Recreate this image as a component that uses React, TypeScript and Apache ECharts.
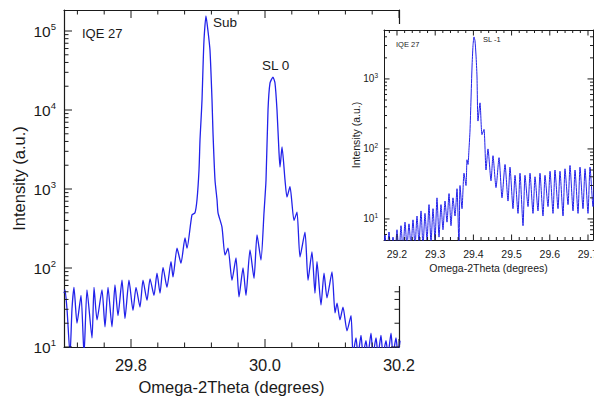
import React, { useEffect, useRef } from 'react';
import * as echarts from 'echarts';

// ---------- Main scan (Omega-2Theta, degrees / intensity, a.u.) ----------
const mainX = [
  29.7000, 29.7015, 29.7045, 29.7090, 29.7119, 29.7149, 29.7194, 29.7254, 29.7299, 29.7343,
  29.7418, 29.7448, 29.7493, 29.7567, 29.7612, 29.7657, 29.7716, 29.7761, 29.7806, 29.7866,
  29.7910, 29.7970, 29.8030, 29.8075, 29.8134, 29.8179, 29.8239, 29.8284, 29.8343, 29.8388,
  29.8433, 29.8478, 29.8537, 29.8597, 29.8627, 29.8687, 29.8746, 29.8806, 29.8836, 29.8910,
  29.8955, 29.8985, 29.9015, 29.9030, 29.9045, 29.9060, 29.9075, 29.9090, 29.9119, 29.9149,
  29.9179, 29.9209, 29.9224, 29.9254, 29.9284, 29.9299, 29.9358, 29.9403, 29.9448, 29.9507,
  29.9567, 29.9612, 29.9672, 29.9716, 29.9776, 29.9836, 29.9881, 29.9940, 29.9985, 30.0015,
  30.0045, 30.0075, 30.0119, 30.0149, 30.0179, 30.0209, 30.0224, 30.0254, 30.0299, 30.0328,
  30.0373, 30.0433, 30.0478, 30.0522, 30.0597, 30.0642, 30.0701, 30.0746, 30.0776, 30.0836,
  30.0881, 30.0925, 30.1000, 30.1045, 30.1075, 30.1119, 30.1164, 30.1224, 30.1284, 30.1313,
  30.1358, 30.1388, 30.1433, 30.1463, 30.1507, 30.1537, 30.1582, 30.1612, 30.1657, 30.1687,
  30.1731, 30.1761, 30.1806, 30.1836, 30.1881, 30.1910, 30.1955, 30.1985, 30.2015,
];
const mainY = [
  48, 53, 30, 8, 30, 57, 20, 45, 8, 53,
  13, 57, 22, 53, 18, 57, 18, 61, 25, 70,
  23, 70, 29, 57, 32, 70, 39, 73, 45, 86,
  48, 102, 57, 120, 77, 178, 115, 240, 178, 470,
  500, 730, 1740, 4200, 7400, 13500, 35000, 78000, 155000, 100000,
  57000, 13500, 5100, 1290, 730, 500, 330, 146, 178, 70,
  134, 43, 100, 45, 170, 74, 263, 126, 500, 1290,
  10000, 22000, 26000, 22000, 10000, 2900, 1900, 3400, 1290, 790,
  1070, 400, 510, 138, 285, 70, 160, 48, 120, 34,
  86, 42, 89, 27, 36, 22, 32, 16, 25, 8,
  13, 8, 14, 8, 12, 8, 15, 8, 13, 8,
  14, 8, 12, 8, 15, 8, 13, 8, 12,
];

// ---------- Inset scan ----------
const insetX = [
  29.1660, 29.1686, 29.1739, 29.1791, 29.1843, 29.1896, 29.1948, 29.2000, 29.2053, 29.2105,
  29.2157, 29.2210, 29.2262, 29.2314, 29.2367, 29.2419, 29.2472, 29.2524, 29.2576, 29.2629,
  29.2681, 29.2733, 29.2786, 29.2838, 29.2890, 29.2943, 29.2995, 29.3047, 29.3100, 29.3152,
  29.3204, 29.3257, 29.3309, 29.3362, 29.3414, 29.3466, 29.3519, 29.3571, 29.3623, 29.3650,
  29.3702, 29.3754, 29.3807, 29.3833, 29.3859, 29.3885, 29.3911, 29.3937, 29.3964, 29.3990,
  29.4016, 29.4042, 29.4068, 29.4094, 29.4120, 29.4173, 29.4225, 29.4278, 29.4330, 29.4382,
  29.4461, 29.4513, 29.4592, 29.4671, 29.4749, 29.4828, 29.4906, 29.4958, 29.5037, 29.5089,
  29.5168, 29.5220, 29.5299, 29.5351, 29.5430, 29.5482, 29.5560, 29.5613, 29.5691, 29.5743,
  29.5822, 29.5875, 29.5953, 29.6006, 29.6084, 29.6136, 29.6215, 29.6267, 29.6346, 29.6398,
  29.6477, 29.6529, 29.6608, 29.6660, 29.6739, 29.6791, 29.6869, 29.6922, 29.7000, 29.7053,
  29.7131, 29.7184,
];
const insetY = [
  3, 6, 3, 6.5, 3, 5.5, 3, 7, 3, 8,
  3.5, 9, 4, 8.5, 4, 9.7, 4, 11, 4.5, 13,
  4, 12, 5, 16, 4.5, 14, 5, 20, 5.5, 16,
  7, 18, 9, 23, 8, 20, 11, 27, 4, 30,
  14, 45, 30, 70, 60, 100, 180, 500, 1480, 3000,
  3980, 3500, 2200, 1100, 250, 455, 160, 190, 50, 100,
  35, 80, 28, 75, 20, 60, 18, 55, 14, 42,
  12, 45, 8, 42, 15, 45, 12, 40, 13, 45,
  11, 42, 15, 48, 12, 50, 14, 48, 11, 52,
  16, 58, 13, 50, 12, 55, 14, 52, 12, 55,
  15, 50,
];

// ---------- Tick marks and labels ----------
const mainXLabels = [29.8, 30.0, 30.2];
const mainXMinorTicks = [29.72, 29.76, 29.84, 29.88, 29.92, 29.96, 30.04, 30.08, 30.12, 30.16];
const mainYDecades = [10, 100, 1000, 10000, 100000];
const mainYMinorTicks = [
  20, 30, 40, 50, 60, 70, 80, 90,
  200, 300, 400, 500, 600, 700, 800, 900,
  2000, 3000, 4000, 5000, 6000, 7000, 8000, 9000,
  20000, 30000, 40000, 50000, 60000, 70000, 80000, 90000,
];
const insetXLabels = [29.2, 29.3, 29.4, 29.5, 29.6, 29.7];
const insetXMinorTicks = [
  29.18, 29.22, 29.24, 29.26, 29.28, 29.32, 29.34, 29.36, 29.38, 29.42, 29.44,
  29.46, 29.48, 29.52, 29.54, 29.56, 29.58, 29.62, 29.64, 29.66, 29.68,
];
const insetYDecades = [10, 100, 1000];
const insetYMinorTicks = [
  6, 7, 8, 9,
  20, 30, 40, 50, 60, 70, 80, 90,
  200, 300, 400, 500, 600, 700, 800, 900,
  2000, 3000, 4000,
];

const FONT = '"Liberation Sans", Arial, Helvetica, sans-serif';
const INK = '#1a1a1a';
const BLUE = '#2222ea';

type PlotCfg = {
  grid: { left: number; top: number; width: number; height: number };
  xMin: number; xMax: number; yMin: number; yMax: number;
  xLabels: number[]; xMinor: number[];
  yDecades: number[]; yMinor: number[];
  minorLen: number; majorLen: number;
  xFont: number; xMargin: number; yFont: number; supSize: number; yMargin: number;
  xName: string; xNameGap: number; yName: string; yNameGap: number; nameSize: number;
  lineWidth: number;
  curveX: number[]; curveY: number[]; curveWidth: number;
  notes: { text: string; x: number; y: number; size: number }[];
};

function buildOption(c: PlotCfg) {
  const axisLine = { show: true, onZero: false, lineStyle: { color: INK, width: c.lineWidth } };
  const lmin = Math.log10(c.yMin);
  const lmax = Math.log10(c.yMax);
  const lh = Math.round(c.yFont * 1.25);
  return {
    animation: false,
    backgroundColor: '#ffffff',
    grid: { ...c.grid, containLabel: false, outerBoundsMode: 'none' },
    xAxis: [
      {
        type: 'value', min: c.xMin, max: c.xMax, position: 'bottom',
        axisLine, axisTick: { show: false }, splitLine: { show: false },
        axisLabel: {
          show: true, customValues: c.xLabels, formatter: (v: number) => v.toFixed(1),
          color: INK, fontFamily: FONT, fontSize: c.xFont, margin: c.xMargin,
        },
        name: c.xName, nameLocation: 'middle', nameGap: c.xNameGap, nameMoveOverlap: false,
        nameTextStyle: { color: INK, fontFamily: FONT, fontSize: c.nameSize },
      },
      {
        type: 'value', min: c.xMin, max: c.xMax, position: 'top',
        axisLine, axisTick: { show: false }, axisLabel: { show: false }, splitLine: { show: false },
      },
    ],
    yAxis: [
      {
        type: 'log', logBase: 10, min: c.yMin, max: c.yMax, position: 'left',
        axisLine, axisTick: { show: false }, axisLabel: { show: false }, splitLine: { show: false },
      },
      {
        type: 'value', min: lmin, max: lmax, position: 'left',
        axisLine: { show: false }, axisTick: { show: false }, splitLine: { show: false },
        axisLabel: {
          show: true, customValues: c.yDecades.map((v) => Math.log10(v)), margin: c.yMargin,
          formatter: (v: number) => `{b|10}{s|${Math.round(v)}}`,
          rich: {
            b: { fontSize: c.yFont, fontFamily: FONT, color: INK, lineHeight: lh, verticalAlign: 'middle' },
            s: { fontSize: c.supSize, fontFamily: FONT, color: INK, lineHeight: c.supSize, verticalAlign: 'top' },
          },
        },
        name: c.yName, nameLocation: 'middle', nameGap: c.yNameGap, nameMoveOverlap: false,
        nameTextStyle: { color: INK, fontFamily: FONT, fontSize: c.nameSize },
      },
      {
        type: 'log', logBase: 10, min: c.yMin, max: c.yMax, position: 'right',
        axisLine, axisTick: { show: false }, axisLabel: { show: false }, splitLine: { show: false },
      },
    ],
    series: [
      {
        type: 'line', xAxisIndex: 0, yAxisIndex: 0,
        data: c.curveX.map((x, i) => [x, c.curveY[i]]),
        symbol: 'none', clip: true, smooth: 0.2,
        lineStyle: { color: BLUE, width: c.curveWidth },
      },
    ],
  };
}

// Tick marks and notes, placed through the chart's own scales once it has laid out.
function overlay(chart: echarts.ECharts, c: PlotCfg) {
  const px = (x: number, y: number) => chart.convertToPixel({ seriesIndex: 0 }, [x, y]) as any;
  const els: any[] = [];
  const tick = (x: number, y: number, len: number, side: number) => {
    const p = px(x, y);
    if (!p || !isFinite(p[0]) || !isFinite(p[1])) return;
    let x2 = p[0];
    let y2 = p[1];
    if (side === 0) y2 -= len;
    else if (side === 1) y2 += len;
    else if (side === 2) x2 += len;
    else x2 -= len;
    els.push({
      type: 'line', silent: true, z: 50,
      shape: { x1: p[0], y1: p[1], x2, y2 },
      style: { stroke: INK, lineWidth: 1 },
    });
  };
  c.xMinor.forEach((v) => { tick(v, c.yMin, c.minorLen, 0); tick(v, c.yMax, c.minorLen, 1); });
  c.xLabels.forEach((v) => { tick(v, c.yMin, c.majorLen, 0); tick(v, c.yMax, c.majorLen, 1); });
  c.yMinor.forEach((v) => { tick(c.xMin, v, c.minorLen, 2); tick(c.xMax, v, c.minorLen, 3); });
  c.yDecades.forEach((v) => { tick(c.xMin, v, c.majorLen, 2); tick(c.xMax, v, c.majorLen, 3); });
  c.notes.forEach((n) => {
    els.push({
      type: 'text', x: n.x, y: n.y, z: 60,
      style: { text: n.text, fill: INK, font: `${n.size}px ${FONT}`, verticalAlign: 'middle' },
    });
  });
  chart.setOption({ graphic: { elements: els } } as any);
}

const mainCfg: PlotCfg = {
  grid: { left: 64, top: 10, width: 335, height: 337 },
  xMin: 29.7, xMax: 30.2, yMin: 10, yMax: 184500,
  xLabels: mainXLabels, xMinor: mainXMinorTicks,
  yDecades: mainYDecades, yMinor: mainYMinorTicks,
  minorLen: 4.5, majorLen: 8,
  xFont: 16.5, xMargin: 9, yFont: 15.5, supSize: 9.5, yMargin: 8,
  xName: 'Omega-2Theta (degrees)', xNameGap: 31,
  yName: 'Intensity (a.u.)', yNameGap: 37, nameSize: 16.5,
  lineWidth: 1.2,
  curveX: mainX, curveY: mainY, curveWidth: 1.3,
  notes: [
    { text: 'IQE 27', x: 82, y: 33, size: 13 },
    { text: 'Sub', x: 213, y: 22, size: 13.5 },
    { text: 'SL 0', x: 262, y: 65, size: 13.5 },
  ],
};

const insetCfg: PlotCfg = {
  grid: { left: 49, top: 6, width: 209, height: 210 },
  xMin: 29.166, xMax: 29.7131, yMin: 5, yMax: 5000,
  xLabels: insetXLabels, xMinor: insetXMinorTicks,
  yDecades: insetYDecades, yMinor: insetYMinorTicks,
  minorLen: 3, majorLen: 5.5,
  xFont: 10.5, xMargin: 8, yFont: 10, supSize: 6.5, yMargin: 6,
  xName: 'Omega-2Theta (degrees)', xNameGap: 22,
  yName: 'Intensity (a.u.)', yNameGap: 23, nameSize: 10.5,
  lineWidth: 1,
  curveX: insetX, curveY: insetY, curveWidth: 1,
  notes: [
    { text: 'IQE 27', x: 61, y: 20, size: 7.5 },
    { text: 'SL -1', x: 148, y: 15, size: 7.5 },
  ],
};

export default function App() {
  const mainRef = useRef<HTMLDivElement>(null);
  const insetRef = useRef<HTMLDivElement>(null);

  useEffect(() => {
    document.body.style.margin = '0';
    const mainChart = echarts.init(mainRef.current!, undefined, { renderer: 'svg' });
    mainChart.setOption(buildOption(mainCfg) as any);
    overlay(mainChart, mainCfg);
    const insetChart = echarts.init(insetRef.current!, undefined, { renderer: 'svg' });
    insetChart.setOption(buildOption(insetCfg) as any);
    overlay(insetChart, insetCfg);
    return () => {
      mainChart.dispose();
      insetChart.dispose();
    };
  }, []);

  return (
    <div style={{ position: 'fixed', left: 0, top: 0, width: 594, height: 396, background: '#fff', overflow: 'hidden' }}>
      <div ref={mainRef} style={{ position: 'absolute', left: 0, top: 0, width: 594, height: 396 }} />
      <div ref={insetRef} style={{ position: 'absolute', left: 335, top: 24, width: 259, height: 262, background: '#fff' }} />
    </div>
  );
}
